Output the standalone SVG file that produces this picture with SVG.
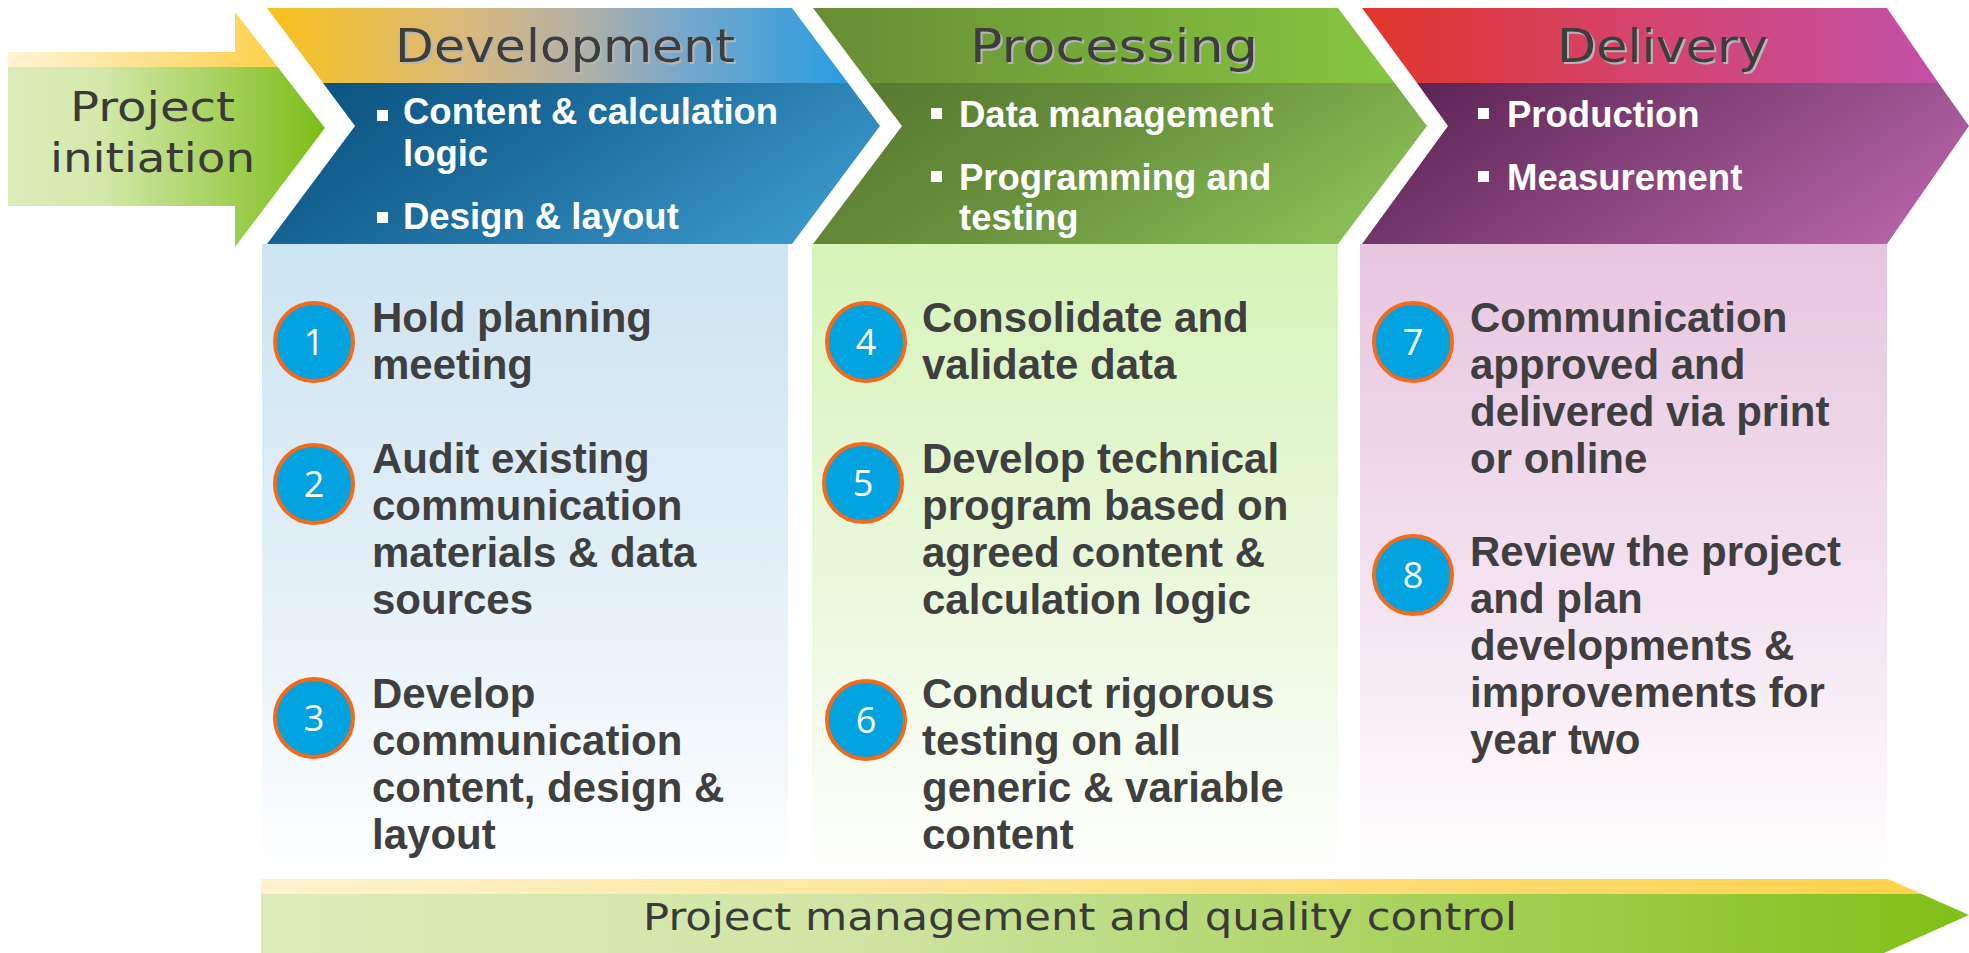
<svg xmlns="http://www.w3.org/2000/svg" width="1969" height="953" viewBox="0 0 1969 953">
<style>
.hdr{font-family:"DejaVu Sans",sans-serif;font-size:46px;fill:#3d3d3d;filter:url(#sh)}
.bul{font-family:"Liberation Sans",Arial,sans-serif;font-weight:bold;font-size:36.5px;fill:#ffffff}
.body{font-family:"Liberation Sans",Arial,sans-serif;font-weight:bold;font-size:42px;fill:#3f3f3f}
.num{font-family:"Open Sans",sans-serif;font-size:36px;fill:#ffffff;text-anchor:middle}
.circ{fill:#02a3de;stroke:#f26a1b;stroke-width:4}
.sq{fill:#ffffff}
.lbl{font-family:"DejaVu Sans",sans-serif;fill:#3a3a3a}
</style>
<defs>
<filter id="sh" x="-5%" y="-5%" width="115%" height="130%">
<feDropShadow dx="2" dy="2" stdDeviation="0.6" flood-color="#b5b5b5" flood-opacity="1"/>
</filter>
<linearGradient id="gInitY" x1="0" y1="0" x2="1" y2="0"><stop offset="0" stop-color="#fff4d6"/><stop offset="1" stop-color="#fdd04a"/></linearGradient>
<linearGradient id="gInitG" x1="0" y1="0" x2="1" y2="0"><stop offset="0" stop-color="#ddecbb"/><stop offset="0.3" stop-color="#d3e8a9"/><stop offset="1" stop-color="#7cbd18"/></linearGradient>
<linearGradient id="gDevT" x1="0" y1="0" x2="1" y2="0"><stop offset="0" stop-color="#f9c31c"/><stop offset="0.35" stop-color="#d8b87f"/><stop offset="0.53" stop-color="#b4b1a4"/><stop offset="0.71" stop-color="#7aa8cb"/><stop offset="1" stop-color="#2b9ce0"/></linearGradient>
<linearGradient id="gDevB" x1="0" y1="0.3" x2="1" y2="0.7"><stop offset="0" stop-color="#0c5581"/><stop offset="0.4" stop-color="#1c6c9c"/><stop offset="1" stop-color="#3c99cc"/></linearGradient>
<linearGradient id="gProT" x1="0" y1="0" x2="1" y2="0"><stop offset="0" stop-color="#678d36"/><stop offset="1" stop-color="#86c63f"/></linearGradient>
<linearGradient id="gProB" x1="0" y1="0.3" x2="1" y2="0.7"><stop offset="0" stop-color="#587b30"/><stop offset="0.4" stop-color="#688f3c"/><stop offset="1" stop-color="#8cc157"/></linearGradient>
<linearGradient id="gDelT" x1="0" y1="0" x2="1" y2="0"><stop offset="0" stop-color="#e0352a"/><stop offset="0.5" stop-color="#d4446f"/><stop offset="1" stop-color="#c151a8"/></linearGradient>
<linearGradient id="gDelB" x1="0" y1="0.3" x2="1" y2="0.7"><stop offset="0" stop-color="#5e2656"/><stop offset="0.45" stop-color="#85437a"/><stop offset="1" stop-color="#b663a8"/></linearGradient>
<linearGradient id="gPanDev" x1="0" y1="0" x2="0" y2="1"><stop offset="0" stop-color="#cde4f1"/><stop offset="0.5" stop-color="#e2eff7"/><stop offset="1" stop-color="#ffffff"/></linearGradient>
<linearGradient id="gPanPro" x1="0" y1="0" x2="0" y2="1"><stop offset="0" stop-color="#d6f3b8"/><stop offset="0.5" stop-color="#e9f8da"/><stop offset="1" stop-color="#ffffff"/></linearGradient>
<linearGradient id="gPanDel" x1="0" y1="0" x2="0" y2="1"><stop offset="0" stop-color="#e7c5df"/><stop offset="0.5" stop-color="#f2e0ee"/><stop offset="1" stop-color="#ffffff"/></linearGradient>
<linearGradient id="gBotY" x1="0" y1="0" x2="1" y2="0"><stop offset="0" stop-color="#fff3cf"/><stop offset="1" stop-color="#fed24b"/></linearGradient>
<linearGradient id="gBotG" x1="0" y1="0" x2="1" y2="0"><stop offset="0" stop-color="#ddecba"/><stop offset="0.35" stop-color="#cfe5a4"/><stop offset="1" stop-color="#82bf17"/></linearGradient>
</defs>
<rect width="1969" height="953" fill="#ffffff"/>

<g id="panels">
<rect x="262" y="244" width="526" height="635" fill="url(#gPanDev)"/>
<rect x="812" y="244" width="526" height="635" fill="url(#gPanPro)"/>
<rect x="1360" y="244" width="527" height="635" fill="url(#gPanDel)"/>
</g>

<g id="initiation">
<polygon points="8,52 235,52 235,12 277.7,67 8,67" fill="url(#gInitY)"/>
<polygon points="8,67 277.7,67 325,128 235,247 235,206 8,206" fill="url(#gInitG)"/>
<text class="lbl" x="70" y="121" font-size="41" textLength="165" lengthAdjust="spacingAndGlyphs">Project</text>
<text class="lbl" x="50" y="172" font-size="41" textLength="205" lengthAdjust="spacingAndGlyphs">initiation</text>
</g>

<g id="development">
<polygon points="267,8 792,8 848,83 323,83" fill="url(#gDevT)"/>
<polygon points="323,83 848,83 880,126 792,244 267,244 355,126" fill="url(#gDevB)"/>
<text class="hdr" x="395" y="62" textLength="340" lengthAdjust="spacingAndGlyphs">Development</text>
<rect class="sq" x="377" y="110" width="11" height="11"/>
<text class="bul" x="403" y="124">Content &amp; calculation</text>
<text class="bul" x="403" y="166">logic</text>
<rect class="sq" x="377" y="212" width="11" height="11"/>
<text class="bul" x="403" y="229">Design &amp; layout</text>
</g>

<g id="processing">
<polygon points="813,8 1338,8 1394.6,83 869,83" fill="url(#gProT)"/>
<polygon points="869,83 1394.6,83 1427,126 1338,244 813,244 902,126" fill="url(#gProB)"/>
<text class="hdr" x="970" y="62" textLength="288" lengthAdjust="spacingAndGlyphs">Processing</text>
<rect class="sq" x="931" y="108" width="11" height="11"/>
<text class="bul" x="959" y="127">Data management</text>
<rect class="sq" x="931" y="171" width="11" height="11"/>
<text class="bul" x="959" y="190">Programming and</text>
<text class="bul" x="959" y="230">testing</text>
</g>

<g id="delivery">
<polygon points="1362,8 1887,8 1938.5,83 1417,83" fill="url(#gDelT)"/>
<polygon points="1417,83 1938.5,83 1969,126 1887,244 1362,244 1448,126" fill="url(#gDelB)"/>
<text class="hdr" x="1557" y="62" textLength="211" lengthAdjust="spacingAndGlyphs">Delivery</text>
<rect class="sq" x="1478" y="108" width="11" height="11"/>
<text class="bul" x="1507" y="127">Production</text>
<rect class="sq" x="1478" y="171" width="11" height="11"/>
<text class="bul" x="1507" y="190">Measurement</text>
</g>

<g id="step1"><circle class="circ" cx="314" cy="342" r="39"/><text class="num" x="314" y="355">1</text>
<text class="body" x="372" y="332">Hold planning</text><text class="body" x="372" y="379">meeting</text></g>
<g id="step2"><circle class="circ" cx="314" cy="484" r="39"/><text class="num" x="314" y="497">2</text>
<text class="body" x="372" y="473">Audit existing</text><text class="body" x="372" y="520">communication</text><text class="body" x="372" y="567">materials &amp; data</text><text class="body" x="372" y="614">sources</text></g>
<g id="step3"><circle class="circ" cx="314" cy="718" r="39"/><text class="num" x="314" y="731">3</text>
<text class="body" x="372" y="708">Develop</text><text class="body" x="372" y="755">communication</text><text class="body" x="372" y="802">content, design &amp;</text><text class="body" x="372" y="849">layout</text></g>

<g id="step4"><circle class="circ" cx="866" cy="342" r="39"/><text class="num" x="866" y="355">4</text>
<text class="body" x="922" y="332">Consolidate and</text><text class="body" x="922" y="379">validate data</text></g>
<g id="step5"><circle class="circ" cx="863" cy="483" r="39"/><text class="num" x="863" y="496">5</text>
<text class="body" x="922" y="473">Develop technical</text><text class="body" x="922" y="520">program based on</text><text class="body" x="922" y="567">agreed content &amp;</text><text class="body" x="922" y="614">calculation logic</text></g>
<g id="step6"><circle class="circ" cx="866" cy="720" r="39"/><text class="num" x="866" y="733">6</text>
<text class="body" x="922" y="708">Conduct rigorous</text><text class="body" x="922" y="755">testing on all</text><text class="body" x="922" y="802">generic &amp; variable</text><text class="body" x="922" y="849">content</text></g>

<g id="step7"><circle class="circ" cx="1413" cy="342" r="39"/><text class="num" x="1413" y="355">7</text>
<text class="body" x="1470" y="332">Communication</text><text class="body" x="1470" y="379">approved and</text><text class="body" x="1470" y="426">delivered via print</text><text class="body" x="1470" y="473">or online</text></g>
<g id="step8"><circle class="circ" cx="1413" cy="575" r="39"/><text class="num" x="1413" y="588">8</text>
<text class="body" x="1470" y="566">Review the project</text><text class="body" x="1470" y="613">and plan</text><text class="body" x="1470" y="660">developments &amp;</text><text class="body" x="1470" y="707">improvements for</text><text class="body" x="1470" y="754">year two</text></g>

<g id="pm-qc">
<polygon points="261,879 1888,879 1921.75,894 261,894" fill="url(#gBotY)"/>
<polygon points="261,894 1921.75,894 1969,915 1884,953 261,953" fill="url(#gBotG)"/>
<text class="lbl" x="643" y="930" font-size="37" fill="#2a2a2a" textLength="874" lengthAdjust="spacingAndGlyphs">Project management and quality control</text>
</g>

<g id="connectors"></g>
</svg>
